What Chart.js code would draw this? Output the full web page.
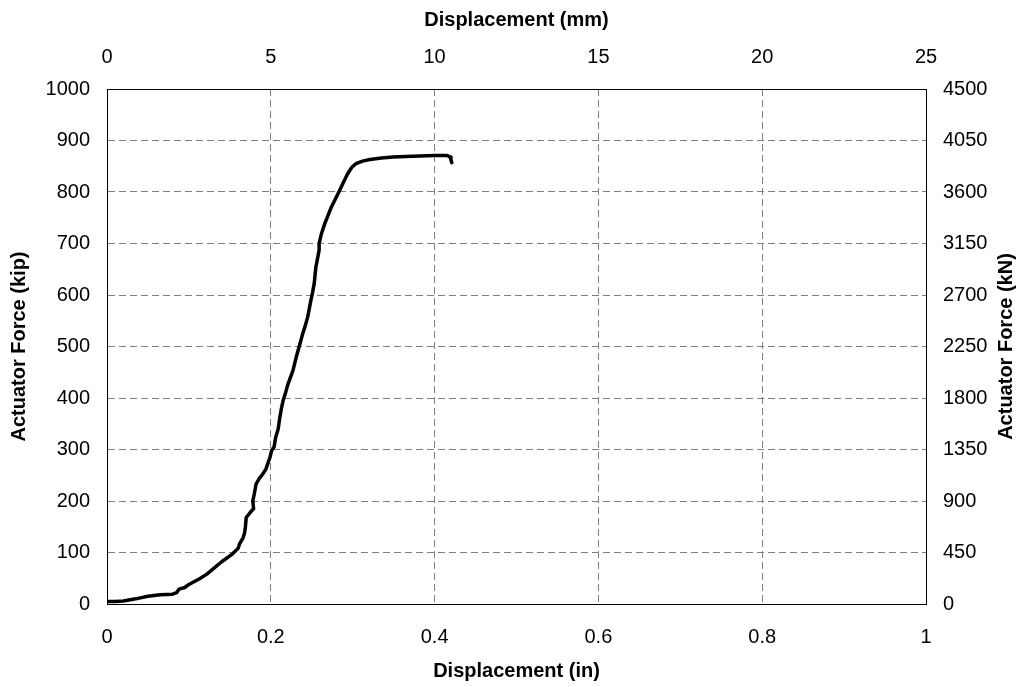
<!DOCTYPE html>
<html>
<head>
<meta charset="utf-8">
<script src="https://cdn.jsdelivr.net/npm/chart.js@4.4.0/dist/chart.umd.min.js"></script>
<style>
html,body{margin:0;padding:0;background:#fff;}
#wrap{width:1022px;height:687px;}
</style>
</head>
<body>
<div id="wrap"><canvas id="c" width="1022" height="687"></canvas></div>
<script>
// Displacement (in) and actuator force (kip)
const dispIn = [0.000,0.010,0.020,0.035,0.050,0.065,0.080,0.085,0.088,0.095,0.100,0.113,0.122,0.131,0.140,0.153,0.160,0.162,0.166,0.168,0.169,0.170,0.176,0.179,0.178,0.180,0.182,0.186,0.190,0.194,0.199,0.201,0.204,0.206,0.209,0.211,0.213,0.215,0.218,0.221,0.224,0.227,0.231,0.235,0.239,0.242,0.245,0.249,0.251,0.253,0.255,0.257,0.259,0.259,0.262,0.266,0.270,0.274,0.279,0.284,0.289,0.294,0.299,0.304,0.312,0.321,0.335,0.349,0.365,0.382,0.400,0.415,0.419,0.420,0.421];
const forceKip = [5,5,6,10,15,18,19,22,29,32,38,49,58,70,82,97,108,117,128,138,150,168,180,185,200,215,233,244,252,262,285,298,305,324,340,362,380,395,410,427,440,453,479,502,525,540,557,590,605,622,654,670,687,700,720,739,755,771,787,803,820,836,848,855,860,863,866,868,869,870,871,871,868,862,857];

const xInMin = 0, xInMax = 1, xInStep = 0.2;
const xMmMin = 0, xMmMax = 25, xMmStep = 5;
const yKipMin = 0, yKipMax = 1000, yKipStep = 100;
const yKnMin = 0, yKnMax = 4500, yKnStep = 450;

const xTitle = 'Displacement (in)';
const x2Title = 'Displacement (mm)';
const yTitle = 'Actuator Force (kip)';
const y2Title = 'Actuator Force (kN)';

const FONT = '"Liberation Sans", Arial, sans-serif';
const tickFont = {family: FONT, size: 20};
const titleFont = {family: FONT, size: 20, weight: 'bold'};
const gridStyle = {color: '#7f7f7f', lineWidth: 1, drawTicks: false};
const gridDash = [7,4];

const pts = dispIn.map((x, i) => ({x: x, y: forceKip[i]}));
const fmt = v => String(Math.round(v * 10) / 10);

const rightTitle = {
  id: 'rightTitle',
  afterDraw(chart) {
    const ctx = chart.ctx;
    const a = chart.chartArea;
    ctx.save();
    ctx.translate(chart.width - 15.5, (a.top + a.bottom) / 2);
    ctx.rotate(-Math.PI / 2);
    ctx.font = 'bold 20px ' + FONT;
    ctx.fillStyle = '#000';
    ctx.textAlign = 'center';
    ctx.textBaseline = 'middle';
    ctx.fillText(y2Title, 0, 0);
    ctx.restore();
  }
};

new Chart(document.getElementById('c'), {
  type: 'scatter',
  data: {
    datasets: [{
      data: pts,
      showLine: true,
      borderColor: '#000',
      backgroundColor: '#000',
      borderWidth: 3.5,
      borderJoinStyle: 'round',
      borderCapStyle: 'round',
      pointRadius: 0,
      tension: 0,
      xAxisID: 'x',
      yAxisID: 'y'
    }]
  },
  options: {
    responsive: false,
    animation: false,
    devicePixelRatio: 1,
    layout: {padding: 0},
    plugins: {legend: {display: false}, tooltip: {enabled: false}},
    scales: {
      x: {
        type: 'linear', position: 'bottom', min: xInMin, max: xInMax,
        ticks: {stepSize: xInStep, font: tickFont, color: '#000', padding: 21, maxRotation: 0, callback: fmt},
        grid: Object.assign({}, gridStyle),
        border: {display: true, color: '#000', width: 1, dash: gridDash},
        title: {display: true, text: xTitle, font: titleFont, color: '#000', padding: {top: 0, bottom: 4}},
        afterFit(s) { s.height = 83; }
      },
      x2: {
        type: 'linear', position: 'top', min: xMmMin, max: xMmMax,
        ticks: {stepSize: xMmStep, font: tickFont, color: '#000', padding: 20, maxRotation: 0, callback: fmt},
        grid: {display: false, drawTicks: false},
        border: {display: true, color: '#000', width: 1},
        title: {display: true, text: x2Title, font: titleFont, color: '#000', padding: {top: 8, bottom: 0}},
        afterFit(s) { s.height = 89; }
      },
      y: {
        type: 'linear', position: 'left', min: yKipMin, max: yKipMax,
        ticks: {stepSize: yKipStep, font: tickFont, color: '#000', padding: 17, callback: v => String(v)},
        grid: Object.assign({}, gridStyle),
        border: {display: true, color: '#000', width: 1, dash: gridDash},
        title: {display: true, text: yTitle, font: titleFont, color: '#000', padding: {top: 7.5, bottom: 0}},
        afterFit(s) { s.width = 107; }
      },
      y2: {
        type: 'linear', position: 'right', min: yKnMin, max: yKnMax,
        ticks: {stepSize: yKnStep, font: tickFont, color: '#000', padding: 17, callback: v => String(v)},
        grid: {display: false, drawTicks: false},
        border: {display: true, color: '#000', width: 1},
        title: {display: false},
        afterFit(s) { s.width = 96; }
      }
    }
  },
  plugins: [rightTitle]
});
</script>
</body>
</html>
